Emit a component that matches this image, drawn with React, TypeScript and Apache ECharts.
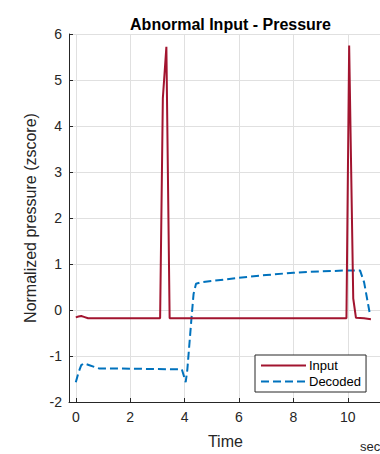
import React, { useEffect, useRef } from "react";
import * as echarts from "echarts";

const inputTime = [0, 0.1, 0.2, 0.3, 0.45, 1, 2, 3, 3.1, 3.2, 3.33, 3.45, 4, 5, 6, 7, 8, 9, 9.95, 10.05, 10.2, 10.3, 10.6, 10.85];
const inputValue = [-0.16, -0.14, -0.13, -0.15, -0.18, -0.18, -0.18, -0.18, -0.18, 4.6, 5.72, -0.18, -0.18, -0.18, -0.18, -0.18, -0.18, -0.18, -0.18, 5.75, 0.25, -0.17, -0.18, -0.2];

const decodedTime = [0, 0.1, 0.2, 0.3, 0.5, 0.85, 1.5, 2.5, 3.5, 3.9, 4.04, 4.1, 4.25, 4.33, 4.42, 4.6, 5, 6, 7, 8, 9, 10, 10.45, 10.6, 10.8];
const decodedValue = [-1.57, -1.36, -1.2, -1.16, -1.2, -1.27, -1.27, -1.28, -1.29, -1.29, -1.57, -1.3, -0.2, 0.35, 0.57, 0.6, 0.63, 0.7, 0.76, 0.81, 0.84, 0.86, 0.86, 0.6, -0.05];

const yTicks = { min: -2, max: 6, interval: 1 };
const xRange = { min: -0.25, max: 11.25 };

const FONT = "'Liberation Sans', Arial, Helvetica, sans-serif";
const INK = "#262626";

export default function App() {
  const ref = useRef<HTMLDivElement>(null);
  useEffect(() => {
    if (!ref.current) return;
    const chart = echarts.init(ref.current, null, { renderer: "svg" });
    chart.setOption({
      animation: false,
      textStyle: { fontFamily: FONT },
      title: {
        text: "Abnormal Input - Pressure",
        left: 225.5,
        top: 11,
        textAlign: "center",
        textStyle: { fontFamily: FONT, fontSize: 16, fontWeight: "bold", color: "#000" },
      },
      grid: { left: 69, top: 34, width: 312.8, height: 373, containLabel: false },
      legend: {
        orient: "vertical",
        left: 255,
        top: 355,
        padding: [4, 5, 4, 5],
        itemGap: 3,
        itemWidth: 45,
        itemHeight: 14,
        backgroundColor: "#fff",
        borderColor: INK,
        borderWidth: 1,
        borderRadius: 0,
        itemStyle: { color: "transparent", borderColor: "transparent", borderWidth: 0, opacity: 0 },
        textStyle: { fontFamily: FONT, fontSize: 13, color: "#000", padding: [0, 0, 0, -2] },
        data: ["Input", "Decoded"],
      },
      xAxis: {
        type: "value",
        min: xRange.min,
        max: xRange.max,
        minInterval: 2,
        maxInterval: 2,
        name: "Time",
        nameLocation: "middle",
        nameGap: 31,
        nameTextStyle: { fontFamily: FONT, fontSize: 16, color: INK },
        axisLine: { show: true, onZero: false, lineStyle: { color: INK, width: 1 } },
        axisTick: { show: true, inside: true, length: 4, lineStyle: { color: INK } },
        axisLabel: {
          showMinLabel: false,
          showMaxLabel: false,
          margin: 8,
          fontFamily: FONT,
          fontSize: 14,
          color: INK,
        },
        splitLine: { show: true, lineStyle: { color: "#e0e0e0", width: 1 } },
      },
      yAxis: {
        type: "value",
        min: yTicks.min,
        max: yTicks.max,
        interval: yTicks.interval,
        name: "Normalized pressure (zscore)",
        nameLocation: "middle",
        nameGap: 24,
        nameTextStyle: { fontFamily: FONT, fontSize: 16, color: INK },
        axisLine: { show: true, onZero: false, lineStyle: { color: INK, width: 1 } },
        axisTick: { show: true, inside: true, length: 4, lineStyle: { color: INK } },
        axisLabel: { margin: 7, fontFamily: FONT, fontSize: 14, color: INK },
        splitLine: { show: true, lineStyle: { color: "#e0e0e0", width: 1 } },
      },
      graphic: [
        {
          type: "text",
          left: 360,
          top: 440,
          style: { text: "sec", fontFamily: FONT, fontSize: 13, fill: INK },
        },
      ],
      series: [
        {
          name: "Input",
          type: "line",
          data: inputTime.map((t, i) => [t, inputValue[i]]),
          symbol: "none",
          lineStyle: { color: "#A2142F", width: 2 },
          itemStyle: { color: "#A2142F" },
          z: 3,
        },
        {
          name: "Decoded",
          type: "line",
          data: decodedTime.map((t, i) => [t, decodedValue[i]]),
          symbol: "none",
          lineStyle: { color: "#0072BD", width: 2, type: [8, 4] },
          itemStyle: { color: "#0072BD" },
          z: 2,
        },
      ],
    });
    return () => chart.dispose();
  }, []);
  return (
    <div
      ref={ref}
      style={{ position: "fixed", left: 0, top: 0, width: 400, height: 454, background: "#fff" }}
    />
  );
}
